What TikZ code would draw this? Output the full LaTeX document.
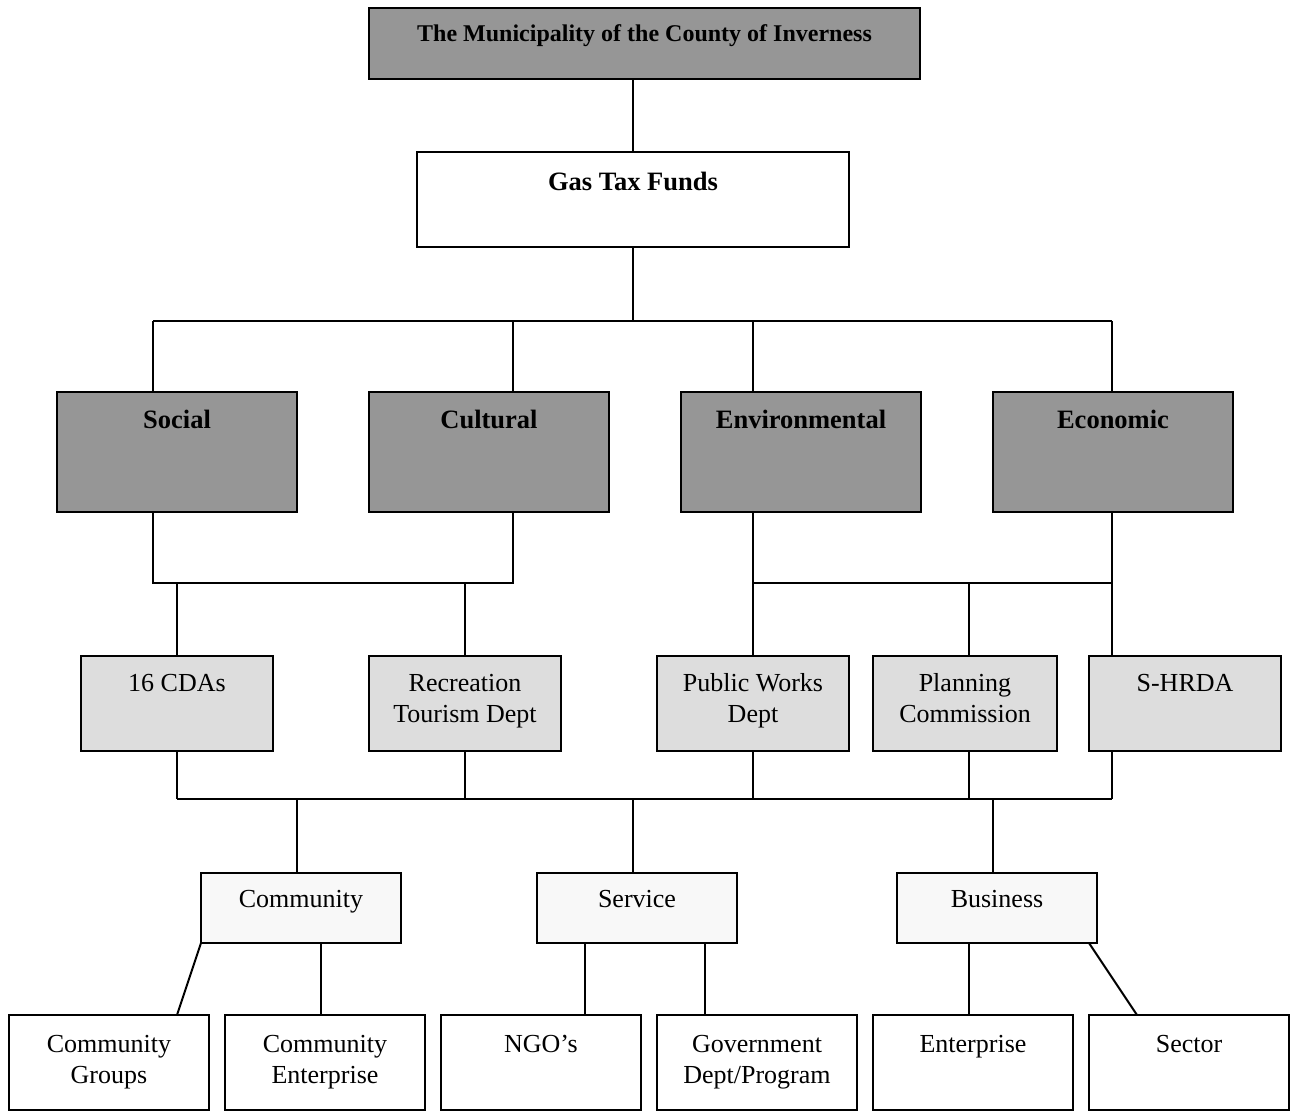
\documentclass[tikz,border=0pt]{standalone}
\usepackage{fontspec}
\setmainfont{Liberation Serif}
\definecolor{darkfill}{HTML}{969696}
\definecolor{lightfill}{HTML}{DDDDDD}
\definecolor{paleFill}{HTML}{F8F8F8}
\begin{document}
\begin{tikzpicture}[x=1pt,y=-1pt,
  box/.style={draw=black,line width=2.6pt,anchor=north west,inner sep=0pt,outer sep=0pt},
  txt/.style={anchor=base,align=center,inner sep=0pt,font=\fontsize{26}{31}\selectfont},
  btxt/.style={anchor=base,align=center,inner sep=0pt,font=\bfseries\fontsize{26.5}{31}\selectfont},
  conn/.style={draw=black,line width=2pt}]
\useasboundingbox (0,0) rectangle (1291,1112);
% boxes
\node[box,fill=darkfill,minimum width=551pt,minimum height=71pt] (top) at (369,8) {};
\node[box,fill=white,minimum width=432pt,minimum height=95pt] (gas) at (417,152) {};
\node[box,fill=darkfill,minimum width=240pt,minimum height=120pt] (soc) at (57,392) {};
\node[box,fill=darkfill,minimum width=240pt,minimum height=120pt] (cul) at (369,392) {};
\node[box,fill=darkfill,minimum width=240pt,minimum height=120pt] (env) at (681,392) {};
\node[box,fill=darkfill,minimum width=240pt,minimum height=120pt] (eco) at (993,392) {};
\node[box,fill=lightfill,minimum width=192pt,minimum height=95pt] (cda) at (81,656) {};
\node[box,fill=lightfill,minimum width=192pt,minimum height=95pt] (rec) at (369,656) {};
\node[box,fill=lightfill,minimum width=192pt,minimum height=95pt] (pub) at (657,656) {};
\node[box,fill=lightfill,minimum width=184pt,minimum height=95pt] (pla) at (873,656) {};
\node[box,fill=lightfill,minimum width=192pt,minimum height=95pt] (shr) at (1089,656) {};
\node[box,fill=paleFill,minimum width=200pt,minimum height=70pt] (com) at (201,873) {};
\node[box,fill=paleFill,minimum width=200pt,minimum height=70pt] (ser) at (537,873) {};
\node[box,fill=paleFill,minimum width=200pt,minimum height=70pt] (bus) at (897,873) {};
\node[box,fill=white,minimum width=200pt,minimum height=95pt] (cg) at (9,1015) {};
\node[box,fill=white,minimum width=200pt,minimum height=95pt] (ce) at (225,1015) {};
\node[box,fill=white,minimum width=200pt,minimum height=95pt] (ngo) at (441,1015) {};
\node[box,fill=white,minimum width=200pt,minimum height=95pt] (gov) at (657,1015) {};
\node[box,fill=white,minimum width=200pt,minimum height=95pt] (ent) at (873,1015) {};
\node[box,fill=white,minimum width=200pt,minimum height=95pt] (sec) at (1089,1015) {};
% texts (base anchor of a two-line node is its last line)
\node[btxt,font=\bfseries\fontsize{24}{28}\selectfont] (topT) at ([yshift=-33pt]top.north) {The Municipality of the County of Inverness};
\node[btxt] (gasT) at ([yshift=-38pt]gas.north) {Gas Tax Funds};
\node[btxt] (socT) at ([yshift=-36pt]soc.north) {Social};
\node[btxt] (culT) at ([yshift=-36pt]cul.north) {Cultural};
\node[btxt] (envT) at ([yshift=-36pt]env.north) {Environmental};
\node[btxt] (ecoT) at ([yshift=-36pt]eco.north) {Economic};
\node[txt] (cdaT) at ([yshift=-35pt]cda.north) {16 CDAs};
\node[txt] (recT) at ([yshift=-66pt]rec.north) {Recreation\\Tourism Dept};
\node[txt] (pubT) at ([yshift=-66pt]pub.north) {Public Works\\Dept};
\node[txt] (plaT) at ([yshift=-66pt]pla.north) {Planning\\Commission};
\node[txt] (shrT) at ([yshift=-35pt]shr.north) {S-HRDA};
\node[txt] (comT) at ([yshift=-34pt]com.north) {Community};
\node[txt] (serT) at ([yshift=-34pt]ser.north) {Service};
\node[txt] (busT) at ([yshift=-34pt]bus.north) {Business};
\node[txt] (cgT) at ([yshift=-68pt]cg.north) {Community\\Groups};
\node[txt] (ceT) at ([yshift=-68pt]ce.north) {Community\\Enterprise};
\node[txt] (ngoT) at ([yshift=-37pt]ngo.north) {NGO’s};
\node[txt] (govT) at ([yshift=-68pt]gov.north) {Government\\Dept/Program};
\node[txt] (entT) at ([yshift=-37pt]ent.north) {Enterprise};
\node[txt] (secT) at ([yshift=-37pt]sec.north) {Sector};
% coordinates
\coordinate (b1L) at (153,321);
\coordinate (b1C) at (513,321);
\coordinate (b1E) at (753,321);
\coordinate (b1R) at (1112,321);
\coordinate (b2L) at (153,583);
\coordinate (b2M) at (513,583);
\coordinate (b2R) at (1112,583);
\coordinate (xpla) at (969,583);
\coordinate (b3L) at (177,799);
\coordinate (b3R) at (1112,799);
\coordinate (xcom) at (297,799);
\coordinate (xser) at (633,799);
\coordinate (xbus) at (993,799);
\coordinate (xcg) at (177,1015);
\coordinate (xce) at (321,1015);
\coordinate (xngo) at (585,1015);
\coordinate (xgov) at (705,1015);
\coordinate (xent) at (969,1015);
\coordinate (xsecA) at (1089,943);
\coordinate (xsec) at (1137,1015);
% connectors
\draw[conn] (gas.north) -- (gas.north |- top.south);
\draw[conn] (gas.south) -- (gas.south |- b1L);
\draw[conn] (b1L) -- (b1R);
\draw[conn] (b1L) -- (b1L |- soc.north);
\draw[conn] (b1C) -- (b1C |- cul.north);
\draw[conn] (b1E) -- (b1E |- env.north);
\draw[conn] (b1R) -- (b1R |- eco.north);
\draw[conn] (b2L |- soc.south) -- (b2L) -- (b2M) -- (b2M |- cul.south);
\draw[conn] (cda.north |- b2L) -- (cda.north);
\draw[conn] (rec.north |- b2L) -- (rec.north);
\draw[conn] (b1E |- env.south) -- (pub.north);
\draw[conn] (b1R |- eco.south) -- (b1R |- shr.north);
\draw[conn] (pub.north |- b2R) -- (b2R);
\draw[conn] (xpla) -- (xpla |- pla.north);
\draw[conn] (cda.south) -- (cda.south |- b3L);
\draw[conn] (rec.south) -- (rec.south |- b3L);
\draw[conn] (pub.south) -- (pub.south |- b3L);
\draw[conn] (xpla |- pla.south) -- (xpla |- b3L);
\draw[conn] (b1R |- shr.south) -- (b3R);
\draw[conn] (b3L) -- (b3R);
\draw[conn] (xcom) -- (xcom |- com.north);
\draw[conn] (xser) -- (xser |- ser.north);
\draw[conn] (xbus) -- (xbus |- bus.north);
\draw[conn] (com.south west) -- (xcg);
\draw[conn] (xce |- com.south) -- (xce);
\draw[conn] (xngo |- ser.south) -- (xngo);
\draw[conn] (xgov |- ser.south) -- (xgov);
\draw[conn] (xent |- bus.south) -- (xent);
\draw[conn] (xsecA) -- (xsec);
\end{tikzpicture}
\end{document}
